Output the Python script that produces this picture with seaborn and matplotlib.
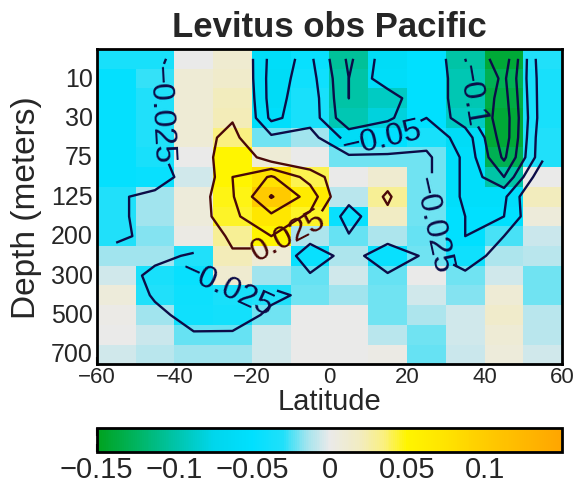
import numpy as np
import pandas as pd
import matplotlib
matplotlib.use("Agg")
import matplotlib.pyplot as plt
import seaborn as sns
from matplotlib.colors import LinearSegmentedColormap

# ---- data ----
latitudes = [-55, -45, -35, -25, -15, -5, 5, 15, 25, 35, 45, 55]
depths = [0, 10, 20, 30, 50, 75, 100, 125, 150, 200, 250, 300, 400, 500, 600, 700]
depth_ticks = ["10", "30", "75", "125", "200", "300", "500", "700"]
lat_ticks = [-60, -40, -20, 0, 20, 40, 60]
cbar_ticks = [-0.15, -0.1, -0.05, 0, 0.05, 0.1]

row_0 = [-0.035, -0.035, 0.0, 0.012, -0.058, -0.045, -0.105, -0.06, -0.05, -0.1, -0.14, -0.03]
row_10 = [-0.048, -0.028, 0.01, 0.015, -0.06, -0.04, -0.1, -0.058, -0.05, -0.095, -0.13, -0.035]
row_20 = [-0.048, -0.03, 0.01, 0.02, -0.06, -0.035, -0.1, -0.09, -0.05, -0.095, -0.135, -0.035]
row_30 = [-0.048, -0.03, 0.01, 0.022, -0.056, -0.035, -0.095, -0.08, -0.05, -0.09, -0.14, -0.035]
row_50 = [-0.048, -0.03, 0.01, 0.035, -0.02, -0.015, -0.06, -0.05, -0.035, -0.06, -0.14, -0.03]
row_75 = [-0.048, -0.035, 0.0, 0.05, 0.01, 0.0, -0.02, -0.02, -0.02, -0.055, -0.13, -0.03]
row_100 = [-0.048, -0.045, -0.005, 0.05, 0.078, 0.04, 0.0, 0.012, -0.02, -0.055, -0.1, 0.0]
row_125 = [-0.03, -0.015, 0.008, 0.048, 0.102, 0.065, -0.01, 0.03, -0.02, -0.055, -0.055, 0.02]
row_150 = [-0.03, -0.015, 0.008, 0.045, 0.07, 0.045, -0.045, 0.018, -0.02, -0.05, -0.05, 0.008]
row_200 = [-0.03, -0.018, 0.003, 0.03, 0.05, -0.012, -0.022, -0.012, -0.022, -0.05, -0.025, -0.007]
row_250 = [-0.015, -0.015, -0.03, 0.022, 0.01, -0.045, -0.012, -0.045, -0.02, -0.04, -0.012, -0.01]
row_300 = [-0.005, -0.035, -0.045, 0.012, -0.015, -0.022, -0.005, -0.022, 0.0, -0.02, -0.005, -0.02]
row_400 = [0.008, -0.03, -0.042, -0.035, -0.03, -0.02, -0.015, -0.02, -0.005, -0.018, 0.01, -0.02]
row_500 = [0.002, -0.015, -0.04, -0.038, -0.02, 0.0, 0.0, -0.02, -0.012, -0.005, 0.015, -0.01]
row_600 = [0.0, -0.007, -0.022, -0.022, -0.005, 0.0, 0.0, -0.01, -0.02, -0.005, 0.01, -0.01]
row_700 = [-0.005, -0.01, -0.015, -0.015, -0.005, 0.0, 0.0, 0.003, -0.022, -0.007, 0.008, -0.005]

rows = [row_0, row_10, row_20, row_30, row_50, row_75, row_100, row_125,
        row_150, row_200, row_250, row_300, row_400, row_500, row_600, row_700]
df = pd.DataFrame(rows, index=depths, columns=latitudes)
Z = df.values

# ---- colormap ----
vmin, vmax = -0.15, 0.15
nodes = [(-0.15, "#00A21E"), (-0.125, "#00B460"), (-0.1, "#00C4A8"), (-0.075, "#00D6EC"),
         (-0.05, "#00E0FF"), (-0.03, "#20E0FA"), (-0.015, "#A0E4EE"), (0.0, "#EAEAEA"),
         (0.02, "#F2ECC0"), (0.035, "#FAF080"), (0.05, "#FFF500"), (0.075, "#FFE400"),
         (0.1, "#FFCC00"), (0.15, "#FFA500")]
cmap = LinearSegmentedColormap.from_list(
    "lev", [((v - vmin) / (vmax - vmin), c) for v, c in nodes])

sns.set_style("white")
plt.rcParams["font.family"] = ["Liberation Sans", "DejaVu Sans"]

fig = plt.figure(figsize=(5.76, 4.85), dpi=100)
ax = fig.add_axes([0.168, 0.247, 0.808, 0.650])
cax = fig.add_axes([0.168, 0.066, 0.808, 0.050])

sns.heatmap(df, cmap=cmap, vmin=vmin, vmax=vmax, ax=ax, cbar_ax=cax,
            cbar_kws={"orientation": "horizontal", "ticks": cbar_ticks},
            linewidths=0, rasterized=True)

# contours on cell centres
X = np.arange(len(latitudes)) + 0.5
Y = np.arange(len(depths)) + 0.5
neg_color, pos_color = "#0C0C48", "#4A0808"
lw = 1.7
fmt = lambda v: f"{v:g}".replace("-", "\u2212")
lab_kw = dict(fmt=fmt, fontsize=23, inline=True, inline_spacing=2)

label_spots = {
    -0.025: [(1.5, 3.3), (3.3, 12.3), (8.6, 8.9)],
    -0.05: [(7.3, 3.6)],
    -0.1: [(9.4, 2.3)],
    0.025: [(4.5, 7.9)],
}
for lev in [-0.125, -0.1, -0.075, -0.05, -0.025, 0.025, 0.05, 0.075, 0.1]:
    col = neg_color if lev < 0 else pos_color
    cs = ax.contour(X, Y, Z, levels=[lev], colors=col, linewidths=lw,
                    linestyles="solid")
    if lev in label_spots:
        ax.clabel(cs, manual=label_spots[lev], **lab_kw)

# axes styling
ax.set_xlim(0, len(latitudes))
ax.set_ylim(len(depths), 0)
ax.set_xticks([(t + 60) / 10 for t in lat_ticks])
ax.set_xticklabels([fmt(t) for t in lat_ticks], rotation=0)
ax.set_yticks(np.arange(1, len(depths), 2) + 0.5)
ax.set_yticklabels(depth_ticks, rotation=0)
ax.tick_params(axis="both", direction="in", length=5, width=1.5, pad=3,
               bottom=True, left=True, top=False, right=False)
ax.tick_params(axis="x", labelsize=16, pad=1)
ax.tick_params(axis="y", labelsize=18)
for s in ax.spines.values():
    s.set_visible(True)
    s.set_linewidth(2)
    s.set_color("black")
ax.set_xlabel("Latitude", fontsize=21, labelpad=0)
ax.set_ylabel("Depth (meters)", fontsize=24, labelpad=6)
ax.set_title("Levitus obs Pacific", fontsize=25, fontweight="bold", pad=9)

# colorbar styling
cb = ax.collections[0].colorbar
cb.outline.set_linewidth(2)
cb.outline.set_edgecolor("black")
cax.xaxis.set_ticks_position("both")
cax.tick_params(axis="x", direction="in", length=6, width=1.5, labelsize=21, pad=2)
cax.set_xticklabels([fmt(t) for t in cbar_ticks])

fig.savefig("out.png", dpi=100)
